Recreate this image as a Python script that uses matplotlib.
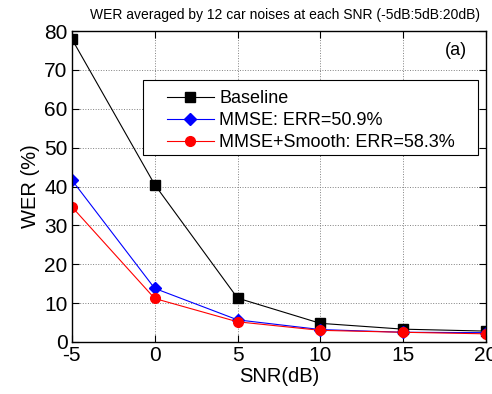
import numpy as np
import matplotlib
matplotlib.use("Agg")
import matplotlib.pyplot as plt
from matplotlib.patches import Rectangle

snr = [-5, 0, 5, 10, 15, 20]
baseline = [78.0, 40.5, 11.3, 4.8, 3.3, 2.8]
mmse = [41.7, 13.8, 5.7, 3.2, 2.5, 2.4]
smooth = [34.8, 11.2, 5.2, 3.0, 2.5, 2.1]
labels = ["Baseline", "MMSE: ERR=50.9%", "MMSE+Smooth: ERR=58.3%"]

plt.rcParams['font.family'] = ['Liberation Sans', 'DejaVu Sans']
plt.rcParams['axes.unicode_minus'] = False

fig = plt.figure(figsize=(4.92, 3.94), dpi=100)
ax = fig.add_axes([0.146, 0.132, 0.842, 0.789])

ax.plot(snr, baseline, color='black', lw=0.8, marker='s', ms=6.5, label=labels[0])
ax.plot(snr, mmse, color='blue', lw=0.8, marker='D', ms=6, label=labels[1])
ax.plot(snr, smooth, color='red', lw=0.8, marker='o', ms=7, label=labels[2])

ax.set_xlim(-5, 20)
ax.set_ylim(0, 80)
ax.set_xticks(snr)
ax.set_yticks(np.arange(0, 81, 10))
ax.grid(True, color='gray', linestyle=':', linewidth=0.7)
ax.tick_params(direction='in', top=True, right=True, labelsize=15, length=5, width=0.8, pad=3)
for s in ax.spines.values():
    s.set_linewidth(1.0)

ax.set_xlabel("SNR(dB)", fontsize=14.5, labelpad=1)
ax.set_ylabel("WER (%)", fontsize=14.5, labelpad=3)
ax.set_title("WER averaged by 12 car noises at each SNR (-5dB:5dB:20dB)", fontsize=10, pad=9, loc='right', x=0.985)
ax.text(0.954, 0.939, "(a)", transform=ax.transAxes, fontsize=13, ha='right', va='center')

# legend box drawn separately so the handles can sit further in from the left edge
ax.add_patch(Rectangle((0.171, 0.601), 0.809, 0.241, transform=ax.transAxes,
                       facecolor='white', edgecolor='black', lw=0.8, zorder=4))
leg = ax.legend(loc='upper left', bbox_to_anchor=(0.229, 0.81), fontsize=13,
                frameon=False, handlelength=2.6, borderpad=0,
                labelspacing=0.27, handletextpad=0.3, borderaxespad=0)
leg.set_zorder(5)

fig.savefig("out.png", dpi=100)
